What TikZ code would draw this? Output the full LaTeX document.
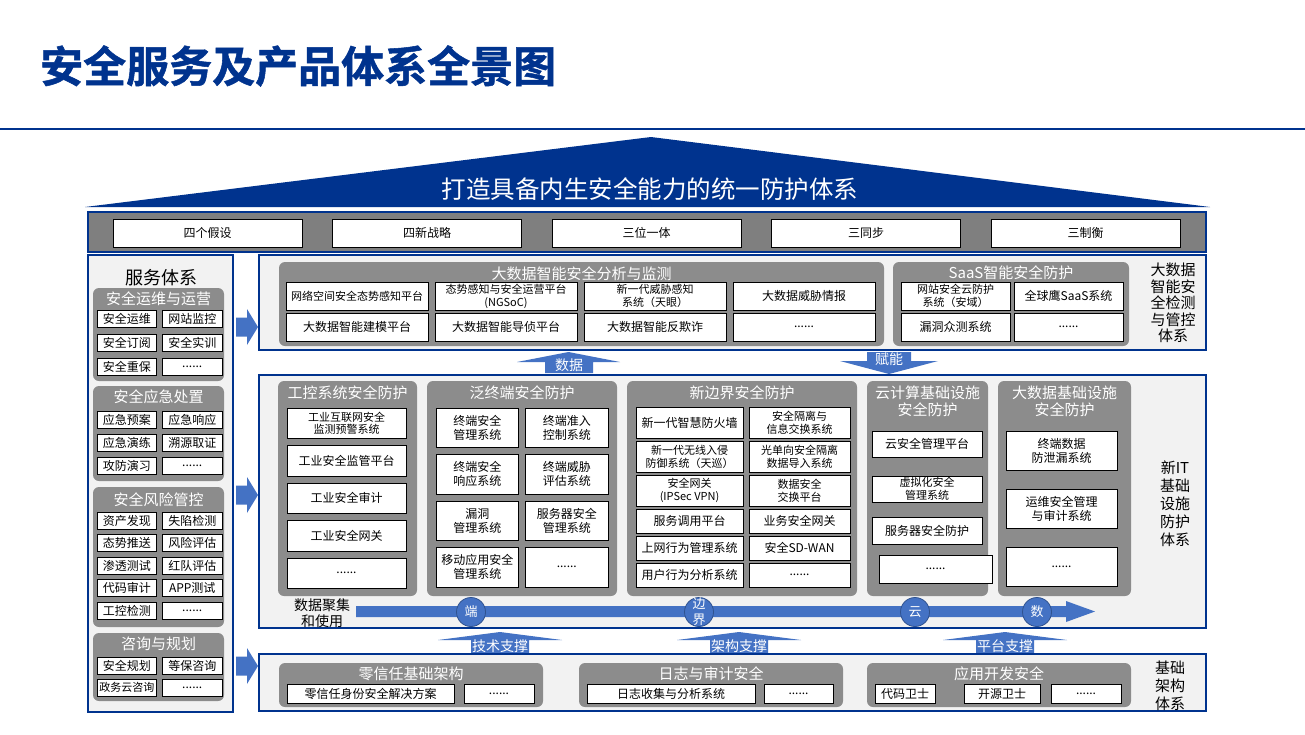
\documentclass[tikz,border=0pt]{standalone}
\usepackage{fontspec}
\setmainfont{Noto Sans CJK SC}
\newfontfamily\titlefont[FakeBold=1.2]{Noto Sans CJK SC Bold}
\usetikzlibrary{positioning}

\definecolor{navy}{HTML}{00338E}
\definecolor{panelbg}{HTML}{F2F2F2}
\definecolor{grpgray}{HTML}{8C8C8C}
\definecolor{bargray}{HTML}{7F7F7F}
\definecolor{blk}{HTML}{4472C4}
\definecolor{blkdark}{HTML}{2F528F}

\tikzset{
  panel/.style={draw=navy, line width=2pt, fill=panelbg, inner sep=0pt, outer sep=0pt},
  grp/.style={fill=grpgray, rounded corners=6pt, inner sep=0pt, outer sep=0pt},
  gttl/.style={text=white, inner sep=0pt, align=center, font=\fontsize{15}{17}\selectfont},
  itm/.style={draw=black, line width=0.8pt, fill=white, inner sep=0pt, outer sep=0pt, align=center, font=\fontsize{12}{14}\selectfont},
  itms/.style={itm, font=\fontsize{11}{13}\selectfont},
  sitm/.style={itm, minimum width=59.5pt, minimum height=17pt},
  side/.style={align=center, inner sep=0pt, font=\fontsize{15}{17.5}\selectfont},
  arrtxt/.style={text=white, inner sep=0pt, font=\fontsize{14}{16}\selectfont},
  circ/.style={circle, fill=blk, draw=blkdark, line width=0.8pt, minimum size=29pt, inner sep=0pt, text=white, font=\fontsize{13}{16}\selectfont, align=center}
}

\begin{document}
\begin{tikzpicture}[x=1pt, y=-1pt]
\useasboundingbox[fill=white] (0,0) rectangle (1305,734);

% title and roof
\node[anchor=west, inner sep=0pt, text=navy, font=\fontsize{43}{50}\titlefont] (title) at (40,66) {安全服务及产品体系全景图};
\draw[navy, line width=1.2pt] (0,129) -- (1305,129);
\fill[navy] (85,207) -- (651,137) -- (1210,207) -- cycle;
\node[text=white, inner sep=0pt, font=\fontsize{24.5}{28}\selectfont] (roof) at (650,189) {打造具备内生安全能力的统一防护体系};

% principles bar
\node[panel, fill=bargray, anchor=north west, minimum width=1118pt, minimum height=40pt] (princ) at (88,212) {};
\node[itm, minimum width=189pt, minimum height=28pt, anchor=north west] (pr1) at (113,219) {四个假设};
\node[itm, minimum width=189pt, minimum height=28pt, right=30.5pt of pr1] (pr2) {四新战略};
\node[itm, minimum width=189pt, minimum height=28pt, right=30.5pt of pr2] (pr3) {三位一体};
\node[itm, minimum width=189pt, minimum height=28pt, right=30.5pt of pr3] (pr4) {三同步};
\node[itm, minimum width=189pt, minimum height=28pt, right=30.5pt of pr4] (pr5) {三制衡};

% service sidebar
\node[panel, anchor=north west, minimum width=145pt, minimum height=457pt] (svc) at (88,255) {};
\node[inner sep=0pt, font=\fontsize{18}{20}\selectfont] (svct) at (161,278) {服务体系};

\node[grp, anchor=north west, minimum width=131pt, minimum height=93pt] (gyw) at (93,288) {};
\node[gttl] (gywt) at (158.5,299) {安全运维与运营};
\node[sitm, anchor=north west] (yw1) at (97,310) {安全运维};
\node[sitm, right=6pt of yw1] (yw2) {网站监控};
\node[sitm, below=7pt of yw1] (yw3) {安全订阅};
\node[sitm, right=6pt of yw3] (yw4) {安全实训};
\node[sitm, below=7pt of yw3] (yw5) {安全重保};
\node[sitm, right=6pt of yw5] (yw6) {......};

\node[grp, anchor=north west, minimum width=131pt, minimum height=95pt] (gyj) at (93,386) {};
\node[gttl] (gyjt) at (158.5,397) {安全应急处置};
\node[sitm, anchor=north west] (yj1) at (97,411) {应急预案};
\node[sitm, right=6pt of yj1] (yj2) {应急响应};
\node[sitm, below=6pt of yj1] (yj3) {应急演练};
\node[sitm, right=6pt of yj3] (yj4) {溯源取证};
\node[sitm, below=6pt of yj3] (yj5) {攻防演习};
\node[sitm, right=6pt of yj5] (yj6) {......};

\node[grp, anchor=north west, minimum width=131pt, minimum height=140pt] (gfx) at (93,487) {};
\node[gttl] (gfxt) at (158.5,500) {安全风险管控};
\node[sitm, anchor=north west] (fx1) at (97,512) {资产发现};
\node[sitm, right=6pt of fx1] (fx2) {失陷检测};
\node[sitm, below=5.5pt of fx1] (fx3) {态势推送};
\node[sitm, right=6pt of fx3] (fx4) {风险评估};
\node[sitm, below=5.5pt of fx3] (fx5) {渗透测试};
\node[sitm, right=6pt of fx5] (fx6) {红队评估};
\node[sitm, below=5.5pt of fx5] (fx7) {代码审计};
\node[sitm, right=6pt of fx7] (fx8) {APP测试};
\node[sitm, below=5.5pt of fx7] (fx9) {工控检测};
\node[sitm, right=6pt of fx9] (fx10) {......};

\node[grp, anchor=north west, minimum width=131pt, minimum height=68pt] (gzx) at (93,633) {};
\node[gttl] (gzxt) at (158.5,644) {咨询与规划};
\node[sitm, anchor=north west] (zx1) at (97,657) {安全规划};
\node[sitm, right=6pt of zx1] (zx2) {等保咨询};
\node[sitm, below=5pt of zx1, font=\fontsize{11}{13}\selectfont] (zx3) {政务云咨询};
\node[sitm, right=6pt of zx3] (zx4) {......};

% arrows from sidebar
\foreach \yy [count=\k] in {327,495,666}
  \fill[blk] (236,\yy-9.5) -- (247,\yy-9.5) -- (247,\yy-18) -- (258,\yy) -- (247,\yy+18) -- (247,\yy+9.5) -- (236,\yy+9.5) -- cycle;

% big data panel
\node[panel, anchor=north west, minimum width=947pt, minimum height=95pt] (bdp) at (259,255) {};
\node[grp, anchor=north west, minimum width=605pt, minimum height=84pt] (gbd) at (279,262) {};
\node[gttl] (gbdt) at (581.5,274) {大数据智能安全分析与监测};
\node[itms, minimum width=142pt, minimum height=28pt, anchor=north west] (bd1) at (286,282) {网络空间安全态势感知平台};
\node[itms, minimum width=142pt, minimum height=28pt, right=7pt of bd1] (bd2) {态势感知与安全运营平台\\(NGSoC)};
\node[itms, minimum width=142pt, minimum height=28pt, right=7pt of bd2] (bd3) {新一代威胁感知\\系统（天眼）};
\node[itm, minimum width=142pt, minimum height=28pt, right=7pt of bd3] (bd4) {大数据威胁情报};
\node[itm, minimum width=142pt, minimum height=28pt, below=3pt of bd1] (bd5) {大数据智能建模平台};
\node[itm, minimum width=142pt, minimum height=28pt, right=7pt of bd5] (bd6) {大数据智能导侦平台};
\node[itm, minimum width=142pt, minimum height=28pt, right=7pt of bd6] (bd7) {大数据智能反欺诈};
\node[itm, minimum width=142pt, minimum height=28pt, right=7pt of bd7] (bd8) {......};

\node[grp, anchor=north west, minimum width=236pt, minimum height=84pt] (gss) at (893,262) {};
\node[gttl] (gsst) at (1011,273) {SaaS智能安全防护};
\node[itms, minimum width=109pt, minimum height=28pt, anchor=north west] (ss1) at (901,282) {网站安全云防护\\系统（安域）};
\node[itm, minimum width=109pt, minimum height=28pt, right=4pt of ss1] (ss2) {全球鹰SaaS系统};
\node[itm, minimum width=109pt, minimum height=28pt, below=3pt of ss1] (ss3) {漏洞众测系统};
\node[itm, minimum width=109pt, minimum height=28pt, right=4pt of ss3] (ss4) {......};
\node[side, font=\fontsize{15}{16.5}\selectfont] (bdlbl) at (1173,303) {大数据\\智能安\\全检测\\与管控\\体系};

% data / empower arrows
\fill[blk] (545,373) -- (545,362) -- (517,362) -- (568.5,352) -- (620,362) -- (593,362) -- (593,373) -- cycle;
\node[arrtxt] (shuju) at (569,365) {数据};
\fill[blk] (867,352) -- (911,352) -- (911,361) -- (938,361) -- (889,374) -- (840,361) -- (867,361) -- cycle;
\node[arrtxt] (funeng) at (889,359) {赋能};

% new IT infrastructure panel
\node[panel, anchor=north west, minimum width=947pt, minimum height=253pt] (itp) at (259,375) {};

\node[grp, anchor=north west, minimum width=139pt, minimum height=215pt] (ggk) at (278,381) {};
\node[gttl] (ggkt) at (347.5,393) {工控系统安全防护};
\node[itms, minimum width=119pt, minimum height=30.5pt, anchor=north west] (gk1) at (287,408) {工业互联网安全\\监测预警系统};
\node[itm, minimum width=119pt, minimum height=30.5pt, below=7pt of gk1] (gk2) {工业安全监管平台};
\node[itm, minimum width=119pt, minimum height=30.5pt, below=7pt of gk2] (gk3) {工业安全审计};
\node[itm, minimum width=119pt, minimum height=30.5pt, below=7pt of gk3] (gk4) {工业安全网关};
\node[itm, minimum width=119pt, minimum height=30.5pt, below=7pt of gk4] (gk5) {......};

\node[grp, anchor=north west, minimum width=190pt, minimum height=215pt] (gfz) at (427,381) {};
\node[gttl] (gfzt) at (522,393) {泛终端安全防护};
\node[itm, minimum width=82.5pt, minimum height=39.5pt, anchor=north west] (fz1) at (436,408) {终端安全\\管理系统};
\node[itm, minimum width=82.5pt, minimum height=39.5pt, right=7pt of fz1] (fz2) {终端准入\\控制系统};
\node[itm, minimum width=82.5pt, minimum height=39.5pt, below=7pt of fz1] (fz3) {终端安全\\响应系统};
\node[itm, minimum width=82.5pt, minimum height=39.5pt, right=7pt of fz3] (fz4) {终端威胁\\评估系统};
\node[itm, minimum width=82.5pt, minimum height=39.5pt, below=7pt of fz3] (fz5) {漏洞\\管理系统};
\node[itm, minimum width=82.5pt, minimum height=39.5pt, right=7pt of fz5] (fz6) {服务器安全\\管理系统};
\node[itm, minimum width=82.5pt, minimum height=39.5pt, below=7pt of fz5] (fz7) {移动应用安全\\管理系统};
\node[itm, minimum width=82.5pt, minimum height=39.5pt, right=7pt of fz7] (fz8) {......};

\node[grp, anchor=north west, minimum width=230pt, minimum height=215pt] (gbj) at (627,381) {};
\node[gttl] (gbjt) at (742,393) {新边界安全防护};
\node[itm, minimum width=107pt, minimum height=31pt, anchor=north west] (bj1) at (636,407) {新一代智慧防火墙};
\node[itms, minimum width=101pt, minimum height=31pt, right=6pt of bj1] (bj2) {安全隔离与\\信息交换系统};
\node[itms, minimum width=107pt, minimum height=31pt, below=3pt of bj1] (bj3) {新一代无线入侵\\防御系统（天巡）};
\node[itms, minimum width=101pt, minimum height=31pt, right=6pt of bj3] (bj4) {光单向安全隔离\\数据导入系统};
\node[itms, minimum width=107pt, minimum height=31pt, below=3pt of bj3] (bj5) {安全网关\\(IPSec VPN)};
\node[itms, minimum width=101pt, minimum height=31pt, right=6pt of bj5] (bj6) {数据安全\\交换平台};
\node[itm, minimum width=107pt, minimum height=24pt, below=3pt of bj5] (bj7) {服务调用平台};
\node[itm, minimum width=101pt, minimum height=24pt, right=6pt of bj7] (bj8) {业务安全网关};
\node[itm, minimum width=107pt, minimum height=24pt, below=3pt of bj7] (bj9) {上网行为管理系统};
\node[itm, minimum width=101pt, minimum height=24pt, right=6pt of bj9] (bj10) {安全SD-WAN};
\node[itm, minimum width=107pt, minimum height=24pt, below=3pt of bj9] (bj11) {用户行为分析系统};
\node[itm, minimum width=101pt, minimum height=24pt, right=6pt of bj11] (bj12) {......};

\node[grp, anchor=north west, minimum width=121pt, minimum height=215pt] (gyun) at (867,381) {};
\node[gttl] (gyunt) at (927.5,401.5) {云计算基础设施\\安全防护};
\node[itm, minimum width=110pt, minimum height=26pt, anchor=north west] (yun1) at (872,431) {云安全管理平台};
\node[itms, minimum width=110pt, minimum height=26pt, anchor=north west] (yun2) at (872,476) {虚拟化安全\\管理系统};
\node[itm, minimum width=110pt, minimum height=27pt, anchor=north west] (yun3) at (872,517) {服务器安全防护};
\node[itm, minimum width=113pt, minimum height=28pt, anchor=north west] (yun4) at (879,555) {......};

\node[grp, anchor=north west, minimum width=133pt, minimum height=215pt] (gdsj) at (998,381) {};
\node[gttl] (gdsjt) at (1064.5,401.5) {大数据基础设施\\安全防护};
\node[itm, minimum width=111pt, minimum height=39pt, anchor=north west] (dsj1) at (1006,431) {终端数据\\防泄漏系统};
\node[itm, minimum width=111pt, minimum height=39pt, below=19pt of dsj1] (dsj2) {运维安全管理\\与审计系统};
\node[itm, minimum width=111pt, minimum height=39pt, below=19pt of dsj2] (dsj3) {......};
\node[side, font=\fontsize{15}{18}\selectfont] (itlbl) at (1175,504) {新IT\\基础\\设施\\防护\\体系};

% data band
\node[inner sep=0pt, align=center, font=\fontsize{14}{16}\selectfont] (band) at (322,613) {数据聚集\\和使用};
\fill[blk] (356,606) -- (1066,606) -- (1066,601) -- (1095,611.5) -- (1066,622) -- (1066,617) -- (356,617) -- cycle;
\node[circ] (duan) at (471,612) {端};
\node[circ] (bianjie) at (699,612) {};
\node[text=white, inner sep=0pt, align=center, font=\fontsize{13}{16}\selectfont] (bjtxt) at (699,612) {边\\界};
\node[circ] (yun) at (915,612) {云};
\node[circ] (shu) at (1037,612) {数};

% support arrows
\foreach \cx/\lbl in {500/技术支撑, 739/架构支撑, 1005/平台支撑} {
  \fill[blk] (\cx-29,653) -- (\cx-29,640) -- (\cx-62,640) -- (\cx,632) -- (\cx+62,640) -- (\cx+29,640) -- (\cx+29,653) -- cycle;
  \node[arrtxt] at (\cx,646) {\lbl};
}

% base infrastructure panel
\node[panel, anchor=north west, minimum width=947pt, minimum height=57pt] (basep) at (259,654) {};

\node[grp, anchor=north west, minimum width=264pt, minimum height=44pt] (glx) at (279,663) {};
\node[gttl] (glxt) at (411,674) {零信任基础架构};
\node[itm, minimum width=167pt, minimum height=19pt, anchor=north west] (lx1) at (287,684) {零信任身份安全解决方案};
\node[itm, minimum width=70pt, minimum height=19pt, right=10pt of lx1] (lx2) {......};

\node[grp, anchor=north west, minimum width=264pt, minimum height=44pt] (grz) at (579,663) {};
\node[gttl] (grzt) at (711,674) {日志与审计安全};
\node[itm, minimum width=168pt, minimum height=19pt, anchor=north west] (rz1) at (587,684) {日志收集与分析系统};
\node[itm, minimum width=69pt, minimum height=19pt, right=9pt of rz1] (rz2) {......};

\node[grp, anchor=north west, minimum width=264pt, minimum height=44pt] (gkf) at (867,663) {};
\node[gttl] (gkft) at (999,674) {应用开发安全};
\node[itm, minimum width=60pt, minimum height=19pt, anchor=north west] (kf1) at (875,684) {代码卫士};
\node[itm, minimum width=76pt, minimum height=19pt, right=29pt of kf1] (kf2) {开源卫士};
\node[itm, minimum width=70pt, minimum height=19pt, right=11pt of kf2] (kf3) {......};
\node[side, font=\fontsize{15}{18}\selectfont] (baselbl) at (1170,686) {基础\\架构\\体系};
\end{tikzpicture}
\end{document}
